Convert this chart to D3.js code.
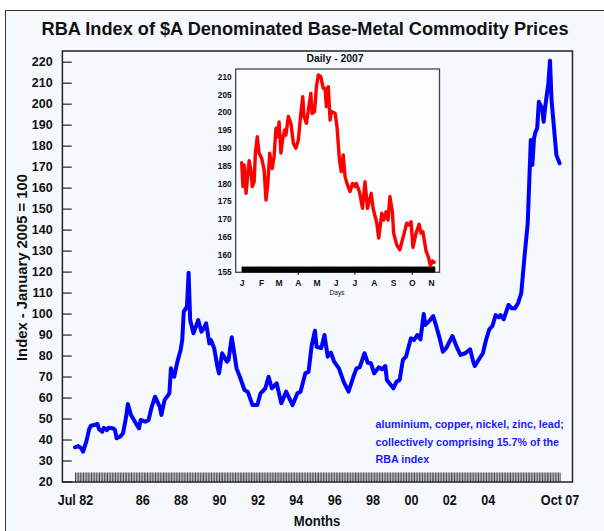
<!DOCTYPE html>
<html>
<head>
<meta charset="utf-8">
<script src="https://cdn.jsdelivr.net/npm/d3@7"></script>
<style>
  body { margin: 0; background: #fff; }
  svg text { font-family: "Liberation Sans", Arial, sans-serif; font-weight: bold; }
</style>
</head>
<body>
<div id="chart"></div>
<script>
// monthly index, Jul 1982 - Oct 2007
var mainDates = ["1982-07","1982-09","1982-11","1982-12","1983-02","1983-04","1983-05","1983-07","1983-09","1983-10",
  "1983-12","1984-01","1984-03","1984-04","1984-07","1984-08","1984-09","1984-11","1985-01","1985-03",
  "1985-04","1985-06","1985-09","1985-11","1985-12","1986-03","1986-05","1986-07","1986-09","1986-12",
  "1987-01","1987-03","1987-06","1987-07","1987-09","1987-11","1988-01","1988-02","1988-03","1988-05",
  "1988-06","1988-07","1988-09","1988-12","1989-02","1989-04","1989-05","1989-07","1989-08","1989-10",
  "1989-12","1990-01","1990-03","1990-06","1990-07","1990-09","1990-12","1991-02","1991-05","1991-07",
  "1991-10","1992-01","1992-03","1992-06","1992-08","1992-10","1993-01","1993-04","1993-07","1993-11",
  "1994-02","1994-04","1994-07","1994-09","1994-11","1995-01","1995-02","1995-05","1995-07","1995-09",
  "1995-11","1996-01","1996-04","1996-07","1996-10","1997-01","1997-03","1997-05","1997-08","1997-10",
  "1997-12","1998-02","1998-05","1998-07","1998-09","1998-10","1999-02","1999-04","1999-06","1999-08",
  "1999-10","2000-01","2000-03","2000-05","2000-07","2000-09","2000-10","2001-01","2001-03","2001-05",
  "2001-07","2001-09","2001-11","2002-03","2002-06","2002-08","2002-11","2003-02","2003-04","2003-05",
  "2003-08","2003-10","2003-12","2004-02","2004-04","2004-06","2004-08","2004-09","2004-11","2005-02",
  "2005-04","2005-06","2005-08","2005-10","2005-12","2006-02","2006-04","2006-05","2006-06","2006-07",
  "2006-08","2006-09","2006-11","2006-12","2007-01","2007-03","2007-04","2007-05","2007-07","2007-08",
  "2007-10"];
var mainValues = [36.3,36.9,35.8,34.2,39,45.3,46.6,46.9,47.4,44.9,
  43.7,45.6,44.5,45.6,45.3,44.5,40.6,41.3,43,50.9,
  56.9,51.7,47.7,45.3,49.3,48.5,49.3,55.6,60.4,55.6,
  51.7,58.8,62,73.9,69.9,77.1,82.6,87.4,100.9,103.3,
  119.5,96.9,90.6,96.9,91.4,93.7,95.4,85.8,87.4,83.5,
  74.7,71.5,81.1,77.1,77.9,88.7,73.9,69.9,63.6,62.8,
  56.4,56.4,62,64.4,69.9,64.4,66.8,57.3,62.8,56.4,
  62,62.8,71.5,72.3,85,91.8,84.2,83.5,89.8,79.5,
  81.4,77.1,73.9,67.5,62.8,69.9,73.9,74.4,81.1,76.6,
  76.3,71.5,74.4,73.5,75,68.4,64.4,67.5,68.4,77.9,
  79.5,88.2,87.4,89.8,87.7,99.8,94.6,96.9,98.8,93.7,
  88.2,81.8,83.5,89.3,83.5,80.3,81.1,83,77.1,75,
  78.7,81.1,87.4,92.5,94.1,99.3,98.2,99.3,97.3,104.1,
  102.5,102.5,104.9,109.7,126.8,143,182.7,170.8,183.5,186.6,
  188.3,200.9,197.8,191.4,198.6,209.7,220.5,201.7,184.3,175.5,
  171.6];

// daily index, 2007
var dailyDates = ["2007-01-01","2007-01-03","2007-01-05","2007-01-08","2007-01-11","2007-01-13","2007-01-16","2007-01-18","2007-01-21","2007-01-23",
  "2007-01-26","2007-01-29","2007-02-02","2007-02-06","2007-02-09","2007-02-12","2007-02-15","2007-02-19","2007-02-22","2007-02-25",
  "2007-02-28","2007-03-02","2007-03-05","2007-03-08","2007-03-11","2007-03-13","2007-03-17","2007-03-21","2007-03-25","2007-03-29",
  "2007-04-02","2007-04-06","2007-04-09","2007-04-11","2007-04-15","2007-04-18","2007-04-22","2007-04-24","2007-04-28","2007-05-01",
  "2007-05-04","2007-05-08","2007-05-12","2007-05-15","2007-05-17","2007-05-20","2007-05-23","2007-05-25","2007-05-31","2007-06-03",
  "2007-06-07","2007-06-10","2007-06-13","2007-06-16","2007-06-19","2007-06-24","2007-06-28","2007-07-02","2007-07-04","2007-07-09",
  "2007-07-14","2007-07-18","2007-07-22","2007-07-28","2007-07-31","2007-08-06","2007-08-09","2007-08-14","2007-08-17","2007-08-21",
  "2007-08-24","2007-08-27","2007-08-31","2007-09-02","2007-09-07","2007-09-12","2007-09-16","2007-09-19","2007-09-23","2007-09-27",
  "2007-09-30","2007-10-03","2007-10-08","2007-10-13","2007-10-16","2007-10-19","2007-10-24","2007-10-28","2007-10-31","2007-11-03",
  "2007-11-06"];
var dailyValues = [185.8,179.1,185.2,177.2,182.8,186.4,183.3,179.1,180.5,188.5,
  193.1,188.5,187.1,183.8,175.3,180,188.5,184.2,187.5,195.5,
  193.1,197.3,188.5,192.7,195,193.6,198.8,196.9,191.3,189.9,
  192.2,199.7,204.4,198.8,196.9,200.6,205.3,199.7,200.2,207.2,
  210.5,210,206.7,206.7,201.6,207.2,197.8,200.2,199.7,196,
  186.6,183.3,188,181.9,180,177.7,180,179.1,180,177.7,
  173,180.5,173,177.2,173,168.8,164.6,171.6,169.7,172,
  169.7,176.3,172,166,162.7,161.3,164.1,166,168.8,168.3,
  169.2,162,166,168.5,166,166.4,161,159.2,156.8,158.2,
  157.8];

var yearTicks = ["1982-07","1986-01","1988-01","1990-01","1992-01","1994-01","1996-01","1998-01","2000-01","2002-01","2004-01","2007-10"];
var yearLabels = ["Jul 82","86","88","90","92","94","96","98","00","02","04","Oct 07"];
var mainYTicks = [20,30,40,50,60,70,80,90,100,110,120,130,140,150,160,170,180,190,200,210,220];
var insetYTicks = [155,160,165,170,175,180,185,190,195,200,205,210];
var insetMonthLabels = ["J","F","M","A","M","J","J","A","S","O","N"];
var noteLines = ["aluminium, copper, nickel, zinc, lead;", "collectively comprising 15.7% of the", "RBA index"];

var width = 604, height = 531;
var parseMonth = d3.timeParse("%Y-%m");
var parseDay = d3.timeParse("%Y-%m-%d");

var svg = d3.select("#chart")
  .append("svg")
    .attr("width", width)
    .attr("height", height);

// outer frame
svg.append("rect")
  .attr("x", 5.5).attr("y", 10.5)
  .attr("width", 640).attr("height", 560)
  .attr("fill", "#f5f9fe")
  .attr("stroke", "#333")
  .attr("stroke-width", 1);

// title
svg.append("text")
  .attr("x", 305).attr("y", 34.5)
  .attr("text-anchor", "middle")
  .attr("textLength", 527)
  .attr("lengthAdjust", "spacingAndGlyphs")
  .style("font-size", "17.5px")
  .style("fill", "#111")
  .text("RBA Index of $A Denominated Base-Metal Commodity Prices");

// ---- main chart ----
var box = {left: 62.4, right: 572.5, top: 51, bottom: 482};

var x = d3.scaleTime()
  .domain([parseMonth("1982-07"), parseMonth("2007-10")])
  .range([75, 559.6]);

var y = d3.scaleLinear()
  .domain([20, 220])
  .range([481.5, 61.7]);

svg.append("rect")
  .attr("x", box.left).attr("y", box.top)
  .attr("width", box.right - box.left).attr("height", box.bottom - box.top)
  .attr("fill", "none")
  .attr("stroke", "#222")
  .attr("stroke-width", 1.5);

// y axis
var yAxis = svg.append("g")
  .attr("transform", "translate(" + box.left + ",0)")
  .call(d3.axisLeft(y).tickValues(mainYTicks).tickSize(-9.4).tickPadding(9.7));
yAxis.select(".domain").remove();
yAxis.selectAll("line").attr("stroke", "#222").attr("stroke-width", 1.2);
yAxis.selectAll("text")
  .style("font-size", "12.5px")
  .style("fill", "#111");

svg.append("text")
  .attr("transform", "translate(27,267.5) rotate(-90)")
  .attr("text-anchor", "middle")
  .attr("textLength", 187)
  .attr("lengthAdjust", "spacingAndGlyphs")
  .style("font-size", "14.5px")
  .style("fill", "#111")
  .text("Index - January 2005 = 100");

// monthly hatch along the bottom
var monthTicks = d3.timeMonth.range(parseMonth("1982-07"), parseMonth("2007-11"));
var hatch = svg.append("g")
  .attr("transform", "translate(0," + box.bottom + ")")
  .call(d3.axisBottom(x).tickValues(monthTicks).tickSize(-9.5).tickFormat(""));
hatch.select(".domain").remove();
hatch.selectAll("line").attr("stroke", "#333").attr("stroke-width", 0.9);

// year labels
var xAxis = svg.append("g")
  .attr("transform", "translate(0," + box.bottom + ")")
  .call(d3.axisBottom(x)
    .tickValues(yearTicks.map(parseMonth))
    .tickSize(0)
    .tickPadding(13.5)
    .tickFormat(function(d, i) { return yearLabels[i]; }));
xAxis.select(".domain").remove();
xAxis.selectAll("text")
  .style("font-size", "14px")
  .style("fill", "#111")
  .attr("transform", "scale(0.9,1)");

svg.append("text")
  .attr("x", 317).attr("y", 525.5)
  .attr("text-anchor", "middle")
  .style("font-size", "14px")
  .style("fill", "#111")
  .attr("textLength", 46.5)
  .attr("lengthAdjust", "spacingAndGlyphs")
  .text("Months");

// main line
var mainData = mainDates.map(function(d, i) { return {date: parseMonth(d), value: mainValues[i]}; });
svg.append("path")
  .datum(mainData)
  .attr("fill", "none")
  .attr("stroke", "#0000ff")
  .attr("stroke-width", 4)
  .attr("stroke-linejoin", "round")
  .attr("stroke-linecap", "round")
  .attr("d", d3.line()
    .x(function(d) { return x(d.date); })
    .y(function(d) { return y(d.value); }));

// note
svg.append("g").selectAll("text")
  .data(noteLines)
  .enter().append("text")
    .attr("x", 375.5)
    .attr("y", function(d, i) { return 428 + i * 17.7; })
    .style("font-size", "10.7px")
    .style("fill", "#1a1aff")
    .text(function(d) { return d; });

// ---- inset: daily 2007 ----
var ibox = {left: 235.7, right: 439.5, top: 69, bottom: 272.3};

var xi = d3.scaleTime()
  .domain([parseDay("2007-01-01"), parseDay("2007-11-01")])
  .range([241.7, 431]);

var yi = d3.scaleLinear()
  .domain([155, 210])
  .range([272.3, 76.7]);

svg.append("rect")
  .attr("x", ibox.left).attr("y", ibox.top)
  .attr("width", ibox.right - ibox.left).attr("height", ibox.bottom - ibox.top)
  .attr("fill", "#fcfdff")
  .attr("stroke", "#444")
  .attr("stroke-width", 1.3);

svg.append("text")
  .attr("x", 335).attr("y", 62)
  .attr("text-anchor", "middle")
  .style("font-size", "10.4px")
  .style("fill", "#111")
  .text("Daily - 2007");

var yiAxis = svg.append("g")
  .attr("transform", "translate(" + ibox.left + ",0)")
  .call(d3.axisLeft(yi).tickValues(insetYTicks).tickSize(0).tickPadding(4));
yiAxis.select(".domain").remove();
yiAxis.selectAll("text").style("font-size", "8.3px").style("fill", "#111");

// daily band (one tick per day, dense enough to read as a solid bar)
var days = d3.timeDay.range(parseDay("2007-01-01"), parseDay("2007-11-07"));
var band = svg.append("g")
  .attr("transform", "translate(0," + ibox.bottom + ")")
  .call(d3.axisBottom(xi).tickValues(days).tickSize(-5.6).tickFormat(""));
band.select(".domain").remove();
band.selectAll("line").attr("stroke", "#000").attr("stroke-width", 1.3);

var quarterTicks = svg.append("g")
  .attr("transform", "translate(0," + ibox.bottom + ")")
  .call(d3.axisBottom(xi)
    .tickValues(["2007-04-01","2007-07-01","2007-10-01"].map(parseDay))
    .tickSize(2.5).tickFormat(""));
quarterTicks.select(".domain").remove();
quarterTicks.selectAll("line").attr("stroke", "#000");

var xiAxis = svg.append("g")
  .attr("transform", "translate(0," + ibox.bottom + ")")
  .call(d3.axisBottom(xi)
    .ticks(d3.timeMonth.every(1))
    .tickSize(0)
    .tickPadding(7.2)
    .tickFormat(function(d) { return insetMonthLabels[d.getMonth()]; }));
xiAxis.select(".domain").remove();
xiAxis.selectAll("text").style("font-size", "8.5px").style("fill", "#111");

svg.append("text")
  .attr("x", 337).attr("y", 295)
  .attr("text-anchor", "middle")
  .style("font-size", "6.5px")
  .style("font-weight", "normal")
  .style("fill", "#111")
  .text("Days");

var dailyData = dailyDates.map(function(d, i) { return {date: parseDay(d), value: dailyValues[i]}; });
svg.append("path")
  .datum(dailyData)
  .attr("fill", "none")
  .attr("stroke", "#ff0000")
  .attr("stroke-width", 3.4)
  .attr("stroke-linejoin", "round")
  .attr("stroke-linecap", "round")
  .attr("d", d3.line()
    .x(function(d) { return xi(d.date); })
    .y(function(d) { return yi(d.value); }));
</script>
</body>
</html>
